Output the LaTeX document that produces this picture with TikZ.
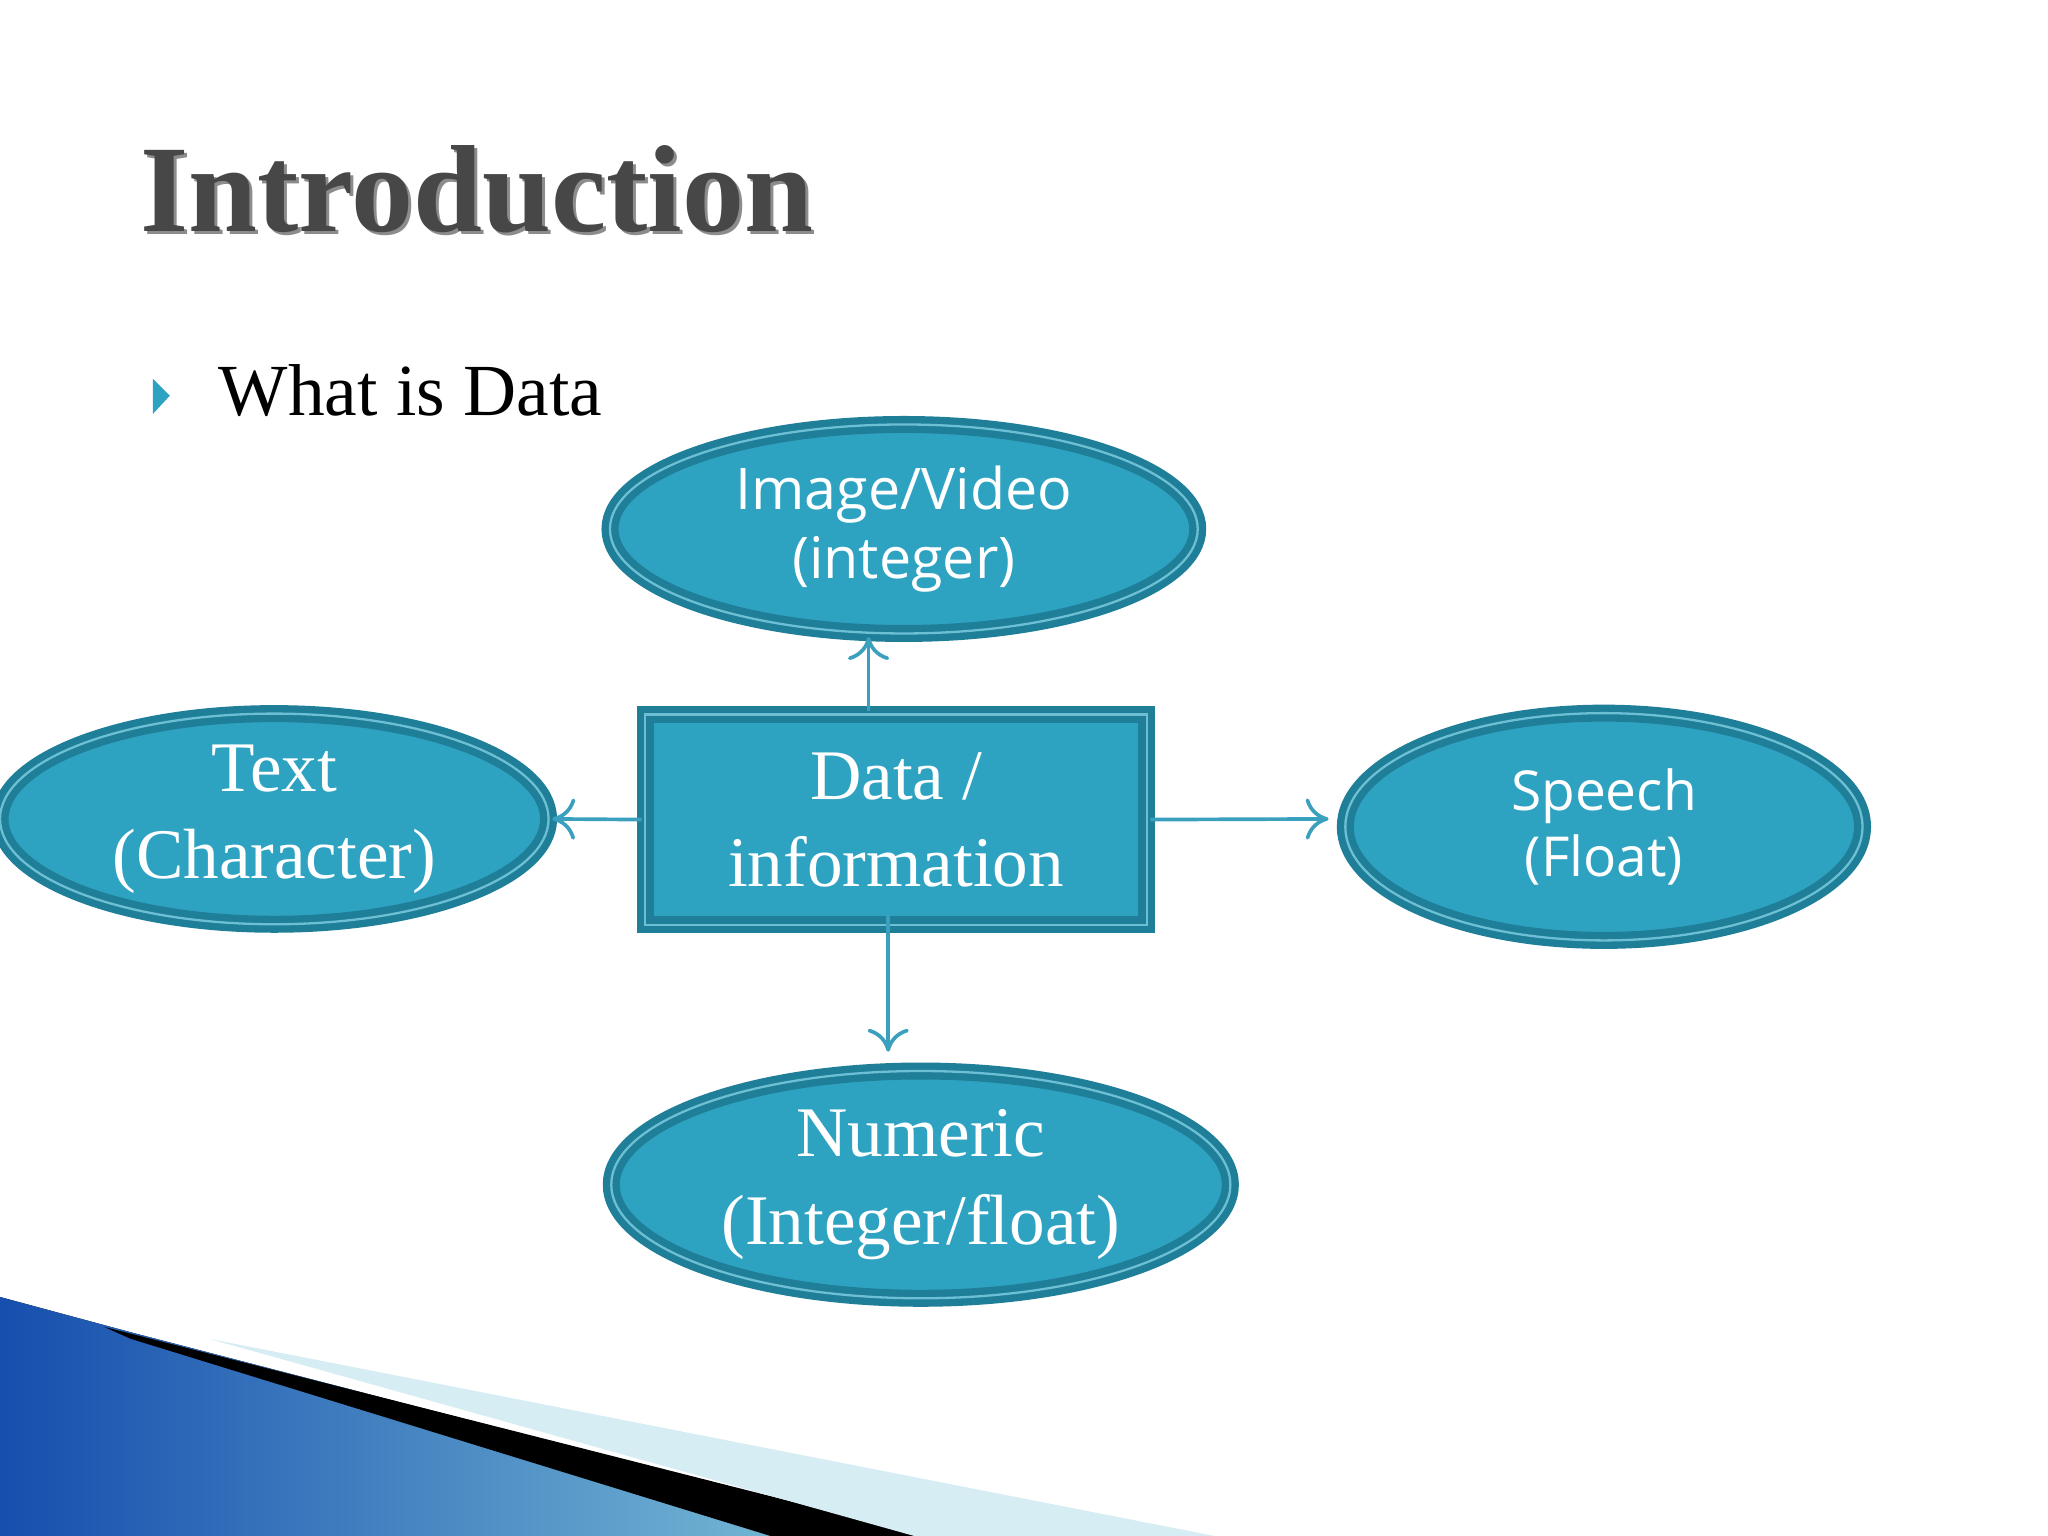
\documentclass[tikz,border=0pt]{standalone}
\usepackage{fontspec}
\setmainfont{Liberation Serif}
\newfontfamily\sansf{Open Sans}
\usetikzlibrary{shapes.geometric,calc,arrows.meta}
\definecolor{fillc}{HTML}{2EA3C1}
\definecolor{edgec}{HTML}{1F7E98}
\definecolor{arrc}{HTML}{3AA0BD}
\tikzset{
 shp/.style={fill=fillc,draw=edgec,line width=1.6pt,double=fillc!70!white,double distance=0.5pt,text=white,align=center,inner sep=0pt},
 ell/.style={shp,ellipse},
 conn/.style={draw=arrc,line width=0.8pt,-{To[length=5pt,width=9pt]}}
}
\begin{document}
\begin{tikzpicture}[x=1cm,y=-1cm]
\useasboundingbox (0,0) rectangle (15.68,11.76);
\fill[white] (0,0) rectangle (15.68,11.76);
% bottom decoration
\fill[left color=fillc!60!blue!80!black, right color=fillc!60!white] (0,9.93) -- (1.0,10.2) -- (7.0,11.76) -- (0,11.76) -- cycle;
\fill[black] (0.8,10.16) -- (7.1,11.76) -- (5.9,11.76) -- (1.0,10.25) -- cycle;
\fill[fillc!20!white] (1.6,10.25) -- (9.3,11.76) -- (7.0,11.76) -- cycle;
% title
\node[anchor=base west,text=black!45,font=\bfseries\fontsize{27}{30}\selectfont] (shadow) at (0.975,1.795) {Introduction};
\node[anchor=base west,text=black!72,font=\bfseries\fontsize{27}{30}\selectfont] (title) at (0.95,1.77) {Introduction};
\fill[fillc] (1.17,2.9) -- (1.3,3.03) -- (1.17,3.17) -- cycle;
\node[anchor=base west,font=\fontsize{16}{19}\selectfont] (what) at (1.55,3.18) {What is Data};
% nodes
\node[shp,minimum width=3.84cm,minimum height=1.61cm,font=\fontsize{15.5}{19}\selectfont] (r) at (6.86,6.275) {Data /\\information};
\node[ell,minimum width=4.5cm,minimum height=1.6cm,font=\sansf\fontsize{12.5}{15}\selectfont] (img) at (6.92,4.05) {Image/Video\\(integer)};
\node[ell,minimum width=4.2cm,minimum height=1.6cm,font=\fontsize{15.5}{19}\selectfont] (txt) at (2.1,6.27) {Text\\(Character)};
\node[ell,minimum width=3.96cm,minimum height=1.74cm,font=\sansf\fontsize{12}{14.5}\selectfont] (sp) at (12.28,6.33) {Speech\\(Float)};
\node[ell,minimum width=4.74cm,minimum height=1.74cm,font=\fontsize{15.5}{19}\selectfont] (num) at (7.05,9.07) {Numeric\\(Integer/float)};
% connectors
\draw[conn] ($(r.north)+(-0.21,0)$) -- ($(img.south)+(-0.27,0)$);
\draw[conn] (r.west) -- (txt.east);
\draw[conn] (r.east) -- ($(sp.west)+(-0.1,-0.06)$);
\draw[conn] ($(r.south)+(-0.06,-0.1)$) -- ($(num.north)+(-0.25,-0.12)$);
\end{tikzpicture}
\end{document}
